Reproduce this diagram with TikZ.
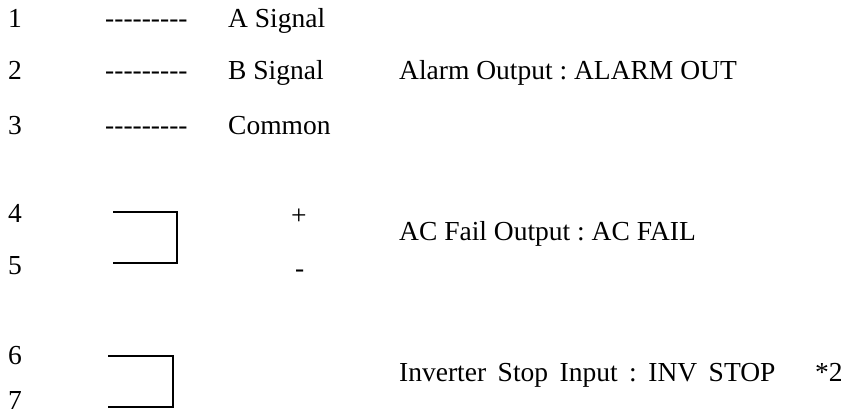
\documentclass[tikz,border=0pt]{standalone}
\usepackage{fontspec}
\setmainfont{Liberation Serif}
\usetikzlibrary{positioning}
\newcommand{\dashrow}{-{}-{}-{}-{}-{}-{}-{}-{}-}
\newcommand{\widespaces}{\spaceskip=11.5pt\relax}
\frenchspacing
\begin{document}
\begin{tikzpicture}[x=1pt,y=-1pt,
	txt/.style={anchor=base west, inner sep=0pt, font=\fontsize{27.5}{32}\selectfont},
	wire/.style={line width=1.2pt}]
	\useasboundingbox (0,0) rectangle (847,416);
	% terminal numbers
	\foreach \n/\y in {1/27,2/79,3/134,4/222,5/274,6/364,7/409}
		\node[txt] (num\n) at (8,\y) {\n};
	% signal lines
	\node[txt] (dash1) at (105,27) {\dashrow};
	\node[txt] (dash2) at (105,79) {\dashrow};
	\node[txt] (dash3) at (105,134) {\dashrow};
	\node[txt] (sigA) at (228,27) {A Signal};
	\node[txt] (sigB) at (228,79) {B Signal};
	\node[txt] (common) at (228,134) {Common};
	% contacts
	\draw[wire] (113,212) -| (177,263) -- (113,263);
	\draw[wire] (108,356) -| (173,407) -- (108,407);
	\node[txt] (plus) at (291,224) {+};
	\node[txt] (minus) at (295,277) {-};
	% descriptions
	\node[txt] (alarm) at (399,79) {Alarm Output : ALARM OUT};
	\node[txt] (acfail) at (399,240) {AC Fail Output : AC FAIL};
	\node[txt] (invstop) at (399,381) {\widespaces Inverter Stop Input : INV STOP};
	\node[txt] (note) at (815,381) {*2};
\end{tikzpicture}
\end{document}
